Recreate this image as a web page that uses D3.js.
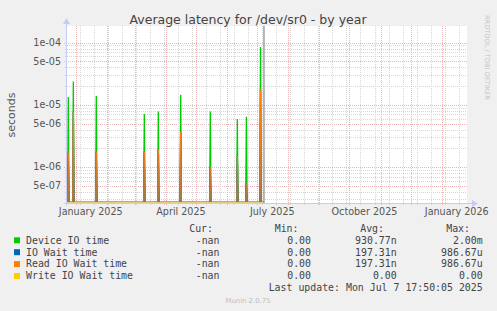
<!DOCTYPE html>
<html><head><meta charset="utf-8">
<script src="https://cdn.jsdelivr.net/npm/d3@7"></script>
<style>body{margin:0;background:#f0f0f0}svg{display:block}</style>
</head><body><svg id="c" width="497" height="311"></svg>
<script>
// ---- data ----
const spikeTimes = ["2024-12-24T15:00Z","2024-12-29T15:00Z","2025-01-21T13:00Z","2025-03-10T10:00Z","2025-03-24T09:00Z",
                    "2025-04-15T17:00Z","2025-05-15T05:00Z","2025-06-11T04:00Z","2025-06-20T05:00Z","2025-07-04T07:00Z"];
const deviceIO  = [1.34e-5, 2.36e-5, 1.39e-5, 7.1e-6, 7.8e-6, 1.45e-5, 7.8e-6, 5.9e-6, 6.4e-6, 8.5e-5];
const ioWait    = [1.7e-6, 7.8e-6, 1.77e-6, 1.77e-6, 1.9e-6, 3.7e-6, 1.0e-6, 1.5e-6, 5.4e-7, 1.8e-5];
const readWait  = [1.7e-6, 7.8e-6, 1.77e-6, 1.77e-6, 1.9e-6, 3.7e-6, 1.0e-6, 1.5e-6, 5.4e-7, 1.8e-5];
const writeWait = [0, 0, 0, 0, 0, 0, 0, 0, 0, 0];
const graphStart = "2024-12-23T07:40Z";
const graphEnd   = "2026-01-26T05:00Z";
const lastUpdate = "2025-07-07T17:50Z";
const yTickValues = [1e-4, 5e-5, 1e-5, 5e-6, 1e-6, 5e-7];
const yTickLabels = ["1e-04", "5e-05", "1e-05", "5e-06", "1e-06", "5e-07"];
const xLabelMonths = ["2025-01-01", "2025-04-01", "2025-07-01", "2025-10-01", "2026-01-01"];
const xLabels = ["January 2025", "April 2025", "July 2025", "October 2025", "January 2026"];
const seriesNames  = ["Device IO time", "IO Wait time", "Read IO Wait time", "Write IO Wait time"];
const seriesColors = ["#00cc00", "#0066b3", "#ff8000", "#ffcc00"];
const statHeaders = ["Cur:", "Min:", "Avg:", "Max:"];
const statCur = ["-nan", "-nan", "-nan", "-nan"];
const statMin = ["0.00 ", "0.00 ", "0.00 ", "0.00 "];
const statAvg = ["930.77n", "197.31n", "197.31n", "0.00 "];
const statMax = ["2.00m", "986.67u", "986.67u", "0.00 "];
const titleText = "Average latency for /dev/sr0 - by year";
const lastUpdateText = "Last update: Mon Jul  7 17:50:05 2025";

// ---- layout ----
const L = 67, R = 467, T = 28, B = 203;
const svg = d3.select("#c");
svg.append("rect").attr("width", 497).attr("height", 311).attr("fill", "#f0f0f0");
svg.append("rect").attr("x", L).attr("y", T - 2).attr("width", R - L).attr("height", B - T + 2).attr("fill", "#ffffff");

const x = d3.scaleUtc().domain([new Date(graphStart), new Date(graphEnd)]).range([L, R]);
const y = d3.scaleLog().domain([2.63e-7, 1.72e-4]).range([B, T]);
const yv = v => v > 0 ? y(v) : B - 0.5;

const grid = svg.append("g");
const minorC = "#d6d6d6", majorC = "#ecb4b4";
// horizontal grid (log)
const hMinor = [], hMajor = [];
for (let e = -7; e <= -4; e++) for (let m = 1; m <= 9; m++) {
  const v = m * Math.pow(10, e);
  if (v < y.domain()[0] || v > y.domain()[1]) continue;
  (m === 1 || m === 5 ? hMajor : hMinor).push(v);
}
const hy = v => Math.round(y(v)) + 0.5;
grid.selectAll(".hmin").data(hMinor).join("line")
  .attr("x1", L - 2).attr("x2", R).attr("y1", hy).attr("y2", hy)
  .attr("stroke", minorC).attr("stroke-dasharray", "1,1");
grid.selectAll(".hmaj").data(hMajor).join("line")
  .attr("x1", L - 3).attr("x2", R).attr("y1", hy).attr("y2", hy)
  .attr("stroke", majorC).attr("stroke-dasharray", "1,1");
// vertical grid
const vMinor = d3.utcDay.range(new Date("2024-12-22T00:00Z"), x.domain()[1], 14).filter(d => x(d) >= L);
const vMajor = d3.utcMonth.range(x.domain()[0], x.domain()[1]);
const vx = d => Math.round(x(d)) + 0.5;
grid.selectAll(".vmin").data(vMinor).join("line")
  .attr("x1", vx).attr("x2", vx).attr("y1", T - 2).attr("y2", B + 2)
  .attr("stroke", minorC).attr("stroke-dasharray", "1,1");
grid.selectAll(".vmaj").data(vMajor).join("line")
  .attr("x1", vx).attr("x2", vx).attr("y1", T - 2).attr("y2", B + 3)
  .attr("stroke", majorC).attr("stroke-dasharray", "1,1");

// gradient for lower part of orange
const defs = svg.append("defs");
const gr = defs.append("linearGradient").attr("id", "og").attr("gradientUnits", "userSpaceOnUse")
  .attr("x1", 0).attr("x2", 0).attr("y1", 100).attr("y2", B);
gr.append("stop").attr("offset", 0).attr("stop-color", "#ff8000");
gr.append("stop").attr("offset", 0.45).attr("stop-color", "#f08018");
gr.append("stop").attr("offset", 1).attr("stop-color", "#a07a48");

// series
const t0 = new Date(graphStart), tNow = new Date(lastUpdate);
const half = 17 * 3600 * 1000;
function pts(vals) {
  const p = [[t0, 0]];
  spikeTimes.forEach((s, i) => {
    const t = new Date(s);
    p.push([new Date(+t - half), 0], [t, vals[i]], [new Date(+t + half), 0]);
  });
  p.push([tNow, 0]);
  return p;
}
const line = d3.line().x(d => x(d[0])).y(d => yv(d[1]));
const allSeries = [deviceIO, ioWait, readWait, writeWait];
allSeries.forEach((vals, i) => {
  svg.append("path").attr("d", line(pts(vals)))
    .attr("fill", "none")
    .attr("stroke", i === 2 ? "url(#og)" : (i === 3 ? "#e2cc88" : seriesColors[i]))
    .attr("stroke-width", i === 3 ? 1.2 : 1.3);
});

// now line
svg.append("line").attr("x1", x(tNow)).attr("x2", x(tNow)).attr("y1", T - 2).attr("y2", B)
  .attr("stroke", "#8a8a8a").attr("stroke-width", 1.2);

// axes
const axisC = "#c8ccf4";
svg.append("line").attr("x1", L - 3).attr("x2", R + 5).attr("y1", B + 0.5).attr("y2", B + 0.5).attr("stroke", axisC);
svg.append("path").attr("d", `M${R + 5},${B - 3} L${R + 11},${B + 0.5} L${R + 5},${B + 4} Z`).attr("fill", axisC);
svg.append("line").attr("x1", L - 0.5).attr("x2", L - 0.5).attr("y1", B + 3).attr("y2", T - 4).attr("stroke", axisC);
svg.append("path").attr("d", `M${L - 4},${T - 4} L${L - 0.5},${T - 10} L${L + 3},${T - 4} Z`).attr("fill", axisC);

// text
const sans = "'DejaVu Sans', Verdana, sans-serif";
svg.append("text").attr("x", 248).attr("y", 23.5).attr("text-anchor", "middle")
  .attr("font-family", sans).attr("font-size", 12.5).attr("fill", "#444").text(titleText);
svg.append("text").attr("transform", "translate(15,115) rotate(-90)").attr("text-anchor", "middle")
  .attr("font-family", sans).attr("font-size", 11).attr("fill", "#555").text("seconds");
svg.selectAll(".yl").data(yTickValues).join("text")
  .attr("x", 61).attr("y", v => y(v) + 3.5).attr("text-anchor", "end")
  .attr("font-family", sans).attr("font-size", 9.6).attr("fill", "#555")
  .text((v, i) => yTickLabels[i]);
svg.selectAll(".xl").data(xLabelMonths).join("text")
  .attr("x", d => x(d3.utcDay.offset(new Date(d + "T00:00Z"), 15))).attr("y", 215)
  .attr("text-anchor", "middle")
  .attr("font-family", sans).attr("font-size", 9.6).attr("fill", "#555")
  .text((d, i) => xLabels[i]);
svg.append("text").attr("transform", "translate(485,15) rotate(90)")
  .attr("font-family", sans).attr("font-size", 6.6).attr("fill", "#c4c4c4").text("RRDTOOL / TOBI OETIKER");

// legend
const mono = "'DejaVu Sans Mono', monospace";
const lg = svg.append("g").attr("font-family", mono).attr("font-size", 9.9).attr("fill", "#444")
  .attr("xml:space", "preserve").style("white-space", "pre");
const colRight = [219.5, 311, 396.7, 482.7];
const headRight = [213, 298.5, 384, 470];
statHeaders.forEach((h, i) => lg.append("text").attr("x", headRight[i]).attr("y", 231.8).attr("text-anchor", "end").text(h));
seriesNames.forEach((n, i) => {
  const by = 243.6 + i * 11.9;
  lg.append("rect").attr("x", 14).attr("y", by - 6.3).attr("width", 6).attr("height", 6).attr("fill", seriesColors[i]);
  lg.append("text").attr("x", 26).attr("y", by).text(n);
  [statCur, statMin, statAvg, statMax].forEach((arr, j) => {
    lg.append("text").attr("x", colRight[j]).attr("y", by).attr("text-anchor", "end").text(arr[i]);
  });
});
lg.append("text").attr("x", 482.7).attr("y", 291).attr("text-anchor", "end").text(lastUpdateText);
svg.append("text").attr("x", 248).attr("y", 302.5).attr("text-anchor", "middle")
  .attr("font-family", sans).attr("font-size", 6.9).attr("fill", "#c0c0c0").text("Munin 2.0.75");
</script></body></html>
